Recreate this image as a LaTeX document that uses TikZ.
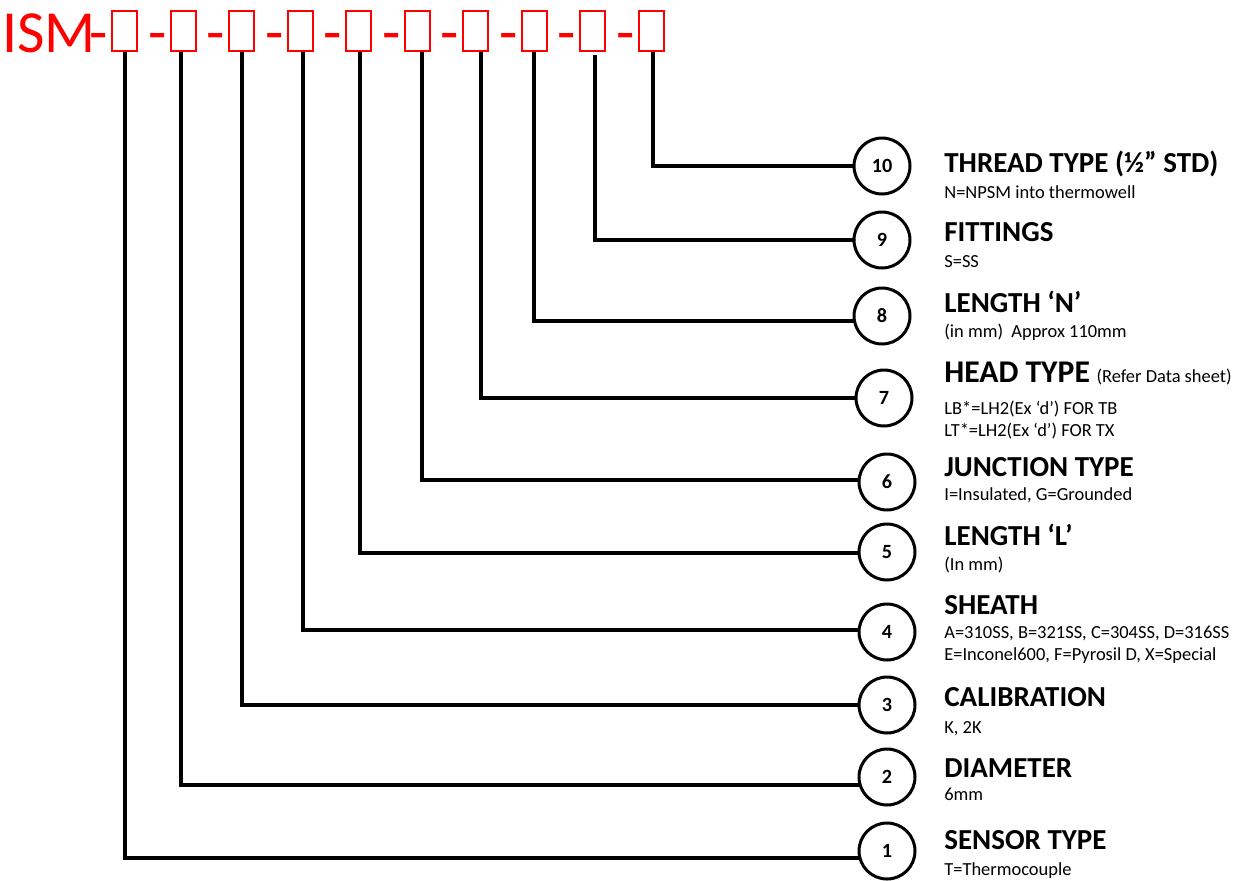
\documentclass[tikz,border=0pt]{standalone}
\usepackage{fontspec}
\setmainfont{Carlito}
\usepackage{tikz}
\usetikzlibrary{backgrounds}
\definecolor{ismred}{RGB}{255,0,0}

\begin{document}
\begin{tikzpicture}[x=0.02cm,y=-0.02cm,
    slot/.style={draw=ismred,line width=0.04cm,minimum width=0.5cm,minimum height=0.8cm,inner sep=0pt},
    hyph/.style={anchor=base east,inner sep=0pt,text=ismred,font=\fontsize{34}{40}\selectfont},
    ball/.style={circle,draw,fill=white,line width=0.06cm,minimum size=1.12cm,inner sep=0pt,font=\fontsize{11.5}{13}\selectfont\bfseries},
    lead/.style={line width=0.08cm,line join=miter},
    title/.style={anchor=base west,inner sep=0pt,font=\fontsize{16.5}{18}\selectfont\bfseries},
    note/.style={anchor=base west,inner sep=0pt,font=\fontsize{10.5}{12.5}\selectfont}]
  \useasboundingbox (0,0) rectangle (1243,880);
  % part number along the top
  \node[anchor=base west,inner sep=0pt,text=ismred,font=\fontsize{34}{40}\selectfont] (ism) at (2,52) {ISM};
  \foreach \i/\bx/\lx/\ly in {1/111/125/52, 2/170/181/52, 3/228/242/52, 4/287/303/52, 5/345/360/52,
                              6/404/422/52, 7/462/481/52, 8/521/534/52, 9/579/595/55, 10/638/653/52} {
    \node[hyph] (h\i) at (\bx-2.5,52) {-};
    \node[slot,anchor=north west] (b\i) at (\bx,10) {}; % empty code box
    \coordinate (t\i) at (\lx,\ly); % foot of the lead
  }
  % numbered circles
  \foreach \i/\cx/\cy in {10/882/166, 9/882/240, 8/882/316, 7/884/398, 6/887/482,
                          5/887/552, 4/887/632, 3/887/705, 2/887/777, 1/887/851}
    \node[ball] (c\i) at (\cx,\cy) {\i};
  % leads from the boxes down to the circles
  \begin{scope}[on background layer]
    \foreach \i/\ly in {10/166, 9/240, 8/321, 7/398, 6/480, 5/553, 4/630, 3/705, 2/785, 1/858}
      \draw[lead] (t\i) |- (c\i |- 0,\ly);
  \end{scope}
  % headings and options
  \foreach \i/\ty/\ny/\head/\opt in {
    10/172/198/{THREAD TYPE (½” STD)}/{N=NPSM into thermowell},
    9/241/267/{FITTINGS}/{S=SS},
    8/312/337/{LENGTH ‘N’}/{(in mm)~ Approx 110mm},
    7/382/414/{{\fontsize{18}{20}\selectfont HEAD TYPE} {\mdseries\fontsize{10.5}{12}\selectfont (Refer Data sheet)}}/{LB*=LH2(Ex ‘d’) FOR TB},
    6/476/500/{JUNCTION TYPE}/{I=Insulated, G=Grounded},
    5/545/570/{LENGTH ‘L’}/{(In mm)},
    4/614/638/{SHEATH}/{A=310SS, B=321SS, C=304SS, D=316SS},
    3/706/733/{CALIBRATION}/{K, 2K},
    2/777/800/{DIAMETER}/{6mm},
    1/849/875/{SENSOR TYPE}/{T=Thermocouple}
  } {
    \node[title] (k\i) at (944,\ty) {\head};
    \node[note] (o\i) at (944,\ny) {\opt};
  }
  \node[note] (o7b) at (944,436) {LT*=LH2(Ex ‘d’) FOR TX};
  \node[note] (o4b) at (944,660) {E=Inconel600, F=Pyrosil D, X=Special};
\end{tikzpicture}
\end{document}
